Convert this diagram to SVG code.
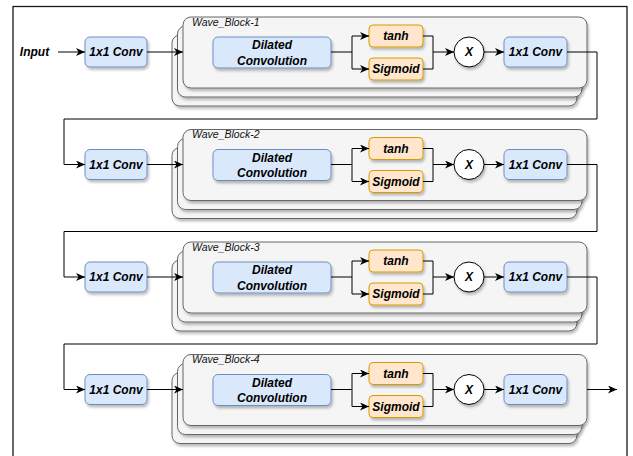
<svg xmlns="http://www.w3.org/2000/svg" width="633" height="456" viewBox="0 0 633 456">
<defs>
<style>
.blk{fill:#f5f5f5;stroke:#666666;stroke-width:1;filter:url(#sh)}
.blue{fill:#dae8fc;stroke:#6c8ebf;stroke-width:1;filter:url(#sh)}
.org{fill:#ffe6cc;stroke:#d79b00;stroke-width:1;filter:url(#sh)}
.circ{fill:#ffffff;stroke:#000000;stroke-width:1;filter:url(#sh)}
.t{font-family:"Liberation Sans",Arial,sans-serif;font-size:12px;font-weight:bold;font-style:italic;fill:#000;text-anchor:middle}
.lbl{font-family:"Liberation Sans",Arial,sans-serif;font-size:10.5px;font-style:italic;fill:#111}
.c{fill:none;stroke:#000;stroke-width:1}
.ca{fill:none;stroke:#000;stroke-width:1;marker-end:url(#ah)}
</style>
<filter id="sh" x="-10%" y="-10%" width="130%" height="140%">
<feDropShadow dx="1.5" dy="2.5" stdDeviation="1.2" flood-color="#000" flood-opacity="0.25"/>
</filter>
<marker id="ah" markerUnits="userSpaceOnUse" markerWidth="10" markerHeight="8" refX="9" refY="4" orient="auto">
<path d="M0,0 L9,4 L0,8 L2.5,4 z" fill="#000"/>
</marker>
</defs>
<rect x="13" y="6.5" width="614" height="460" fill="#ffffff" stroke="#1a1a1a" stroke-width="1.3"/>

<g id="input"><text class="t" x="34.5" y="56.3">Input</text></g>

<g id="block1">
<rect class="blk" x="172" y="35" width="405" height="71" rx="8"/>
<rect class="blk" x="177.5" y="26" width="404.5" height="71" rx="8"/>
<rect class="blk" x="183" y="17" width="404" height="71" rx="8"/>
<text class="lbl" x="192" y="25.5">Wave_Block-1</text>
</g>
<g id="block2" transform="translate(0,112.5)">
<rect class="blk" x="172" y="35" width="405" height="71" rx="8"/>
<rect class="blk" x="177.5" y="26" width="404.5" height="71" rx="8"/>
<rect class="blk" x="183" y="17" width="404" height="71" rx="8"/>
<text class="lbl" x="192" y="25.5">Wave_Block-2</text>
</g>
<g id="block3" transform="translate(0,225)">
<rect class="blk" x="172" y="35" width="405" height="71" rx="8"/>
<rect class="blk" x="177.5" y="26" width="404.5" height="71" rx="8"/>
<rect class="blk" x="183" y="17" width="404" height="71" rx="8"/>
<text class="lbl" x="192" y="25.5">Wave_Block-3</text>
</g>
<g id="block4" transform="translate(0,337.5)">
<rect class="blk" x="172" y="35" width="405" height="71" rx="8"/>
<rect class="blk" x="177.5" y="26" width="404.5" height="71" rx="8"/>
<rect class="blk" x="183" y="17" width="404" height="71" rx="8"/>
<text class="lbl" x="192" y="25.5">Wave_Block-4</text>
</g>

<g id="row1">
<g id="conv_in1"><rect class="blue" x="85" y="37" width="62" height="30" rx="5"/><text class="t" x="116" y="56.3">1x1 Conv</text></g>
<g id="dil1"><rect class="blue" x="213" y="37" width="118" height="31" rx="5"/><text class="t" x="272" y="49">Dilated</text><text class="t" x="272" y="64.5">Convolution</text></g>
<g id="tanh1"><rect class="org" x="369" y="25" width="54" height="22" rx="4"/><text class="t" x="396" y="40.3">tanh</text></g>
<g id="sig1"><rect class="org" x="369" y="58" width="54" height="22" rx="4"/><text class="t" x="396" y="73.3">Sigmoid</text></g>
<g id="mul1"><circle class="circ" cx="469" cy="52" r="15"/><text class="t" x="469" y="56.3">X</text></g>
<g id="conv_out1"><rect class="blue" x="504" y="37" width="63" height="30" rx="5"/><text class="t" x="535.5" y="56.3">1x1 Conv</text></g>
</g>
<g id="row2" transform="translate(0,112.5)">
<g id="conv_in2"><rect class="blue" x="85" y="37" width="62" height="30" rx="5"/><text class="t" x="116" y="56.3">1x1 Conv</text></g>
<g id="dil2"><rect class="blue" x="213" y="37" width="118" height="31" rx="5"/><text class="t" x="272" y="49">Dilated</text><text class="t" x="272" y="64.5">Convolution</text></g>
<g id="tanh2"><rect class="org" x="369" y="25" width="54" height="22" rx="4"/><text class="t" x="396" y="40.3">tanh</text></g>
<g id="sig2"><rect class="org" x="369" y="58" width="54" height="22" rx="4"/><text class="t" x="396" y="73.3">Sigmoid</text></g>
<g id="mul2"><circle class="circ" cx="469" cy="52" r="15"/><text class="t" x="469" y="56.3">X</text></g>
<g id="conv_out2"><rect class="blue" x="504" y="37" width="63" height="30" rx="5"/><text class="t" x="535.5" y="56.3">1x1 Conv</text></g>
</g>
<g id="row3" transform="translate(0,225)">
<g id="conv_in3"><rect class="blue" x="85" y="37" width="62" height="30" rx="5"/><text class="t" x="116" y="56.3">1x1 Conv</text></g>
<g id="dil3"><rect class="blue" x="213" y="37" width="118" height="31" rx="5"/><text class="t" x="272" y="49">Dilated</text><text class="t" x="272" y="64.5">Convolution</text></g>
<g id="tanh3"><rect class="org" x="369" y="25" width="54" height="22" rx="4"/><text class="t" x="396" y="40.3">tanh</text></g>
<g id="sig3"><rect class="org" x="369" y="58" width="54" height="22" rx="4"/><text class="t" x="396" y="73.3">Sigmoid</text></g>
<g id="mul3"><circle class="circ" cx="469" cy="52" r="15"/><text class="t" x="469" y="56.3">X</text></g>
<g id="conv_out3"><rect class="blue" x="504" y="37" width="63" height="30" rx="5"/><text class="t" x="535.5" y="56.3">1x1 Conv</text></g>
</g>
<g id="row4" transform="translate(0,337.5)">
<g id="conv_in4"><rect class="blue" x="85" y="37" width="62" height="30" rx="5"/><text class="t" x="116" y="56.3">1x1 Conv</text></g>
<g id="dil4"><rect class="blue" x="213" y="37" width="118" height="31" rx="5"/><text class="t" x="272" y="49">Dilated</text><text class="t" x="272" y="64.5">Convolution</text></g>
<g id="tanh4"><rect class="org" x="369" y="25" width="54" height="22" rx="4"/><text class="t" x="396" y="40.3">tanh</text></g>
<g id="sig4"><rect class="org" x="369" y="58" width="54" height="22" rx="4"/><text class="t" x="396" y="73.3">Sigmoid</text></g>
<g id="mul4"><circle class="circ" cx="469" cy="52" r="15"/><text class="t" x="469" y="56.3">X</text></g>
<g id="conv_out4"><rect class="blue" x="504" y="37" width="63" height="30" rx="5"/><text class="t" x="535.5" y="56.3">1x1 Conv</text></g>
</g>

<g id="connectors">
<path class="ca" d="M58,52 H85"/>
<g id="c1">
<path class="ca" d="M147,52 H183"/>
<path class="c" d="M331,52 H352 M352,36 V69"/>
<path class="ca" d="M352,36 H369"/><path class="ca" d="M352,69 H369"/>
<path class="c" d="M423,36 H433 V69 H423"/>
<path class="ca" d="M433,52 H454"/>
<path class="ca" d="M484,52 H504"/>
<path class="ca" d="M567,52 H597 V119 H64 V164.5 H85"/>
</g>
<g id="c2" transform="translate(0,112.5)">
<path class="ca" d="M147,52 H183"/>
<path class="c" d="M331,52 H352 M352,36 V69"/>
<path class="ca" d="M352,36 H369"/><path class="ca" d="M352,69 H369"/>
<path class="c" d="M423,36 H433 V69 H423"/>
<path class="ca" d="M433,52 H454"/>
<path class="ca" d="M484,52 H504"/>
<path class="ca" d="M567,52 H597 V119 H64 V164.5 H85"/>
</g>
<g id="c3" transform="translate(0,225)">
<path class="ca" d="M147,52 H183"/>
<path class="c" d="M331,52 H352 M352,36 V69"/>
<path class="ca" d="M352,36 H369"/><path class="ca" d="M352,69 H369"/>
<path class="c" d="M423,36 H433 V69 H423"/>
<path class="ca" d="M433,52 H454"/>
<path class="ca" d="M484,52 H504"/>
<path class="ca" d="M567,52 H597 V119 H64 V164.5 H85"/>
</g>
<g id="c4" transform="translate(0,337.5)">
<path class="ca" d="M147,52 H183"/>
<path class="c" d="M331,52 H352 M352,36 V69"/>
<path class="ca" d="M352,36 H369"/><path class="ca" d="M352,69 H369"/>
<path class="c" d="M423,36 H433 V69 H423"/>
<path class="ca" d="M433,52 H454"/>
<path class="ca" d="M484,52 H504"/>
<path class="ca" d="M587,52 H617"/>
</g>
</g>
</svg>
